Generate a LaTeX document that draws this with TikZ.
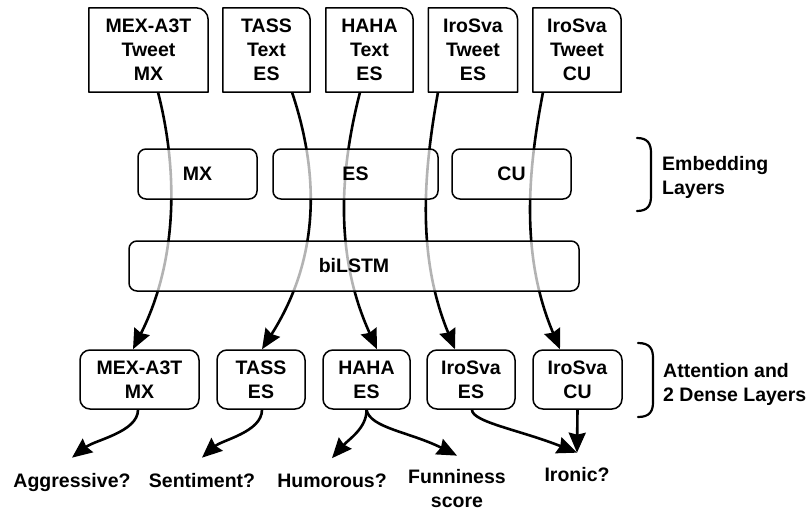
\documentclass[tikz,border=0pt]{standalone}
\usepackage{fontspec}
\setmainfont{Liberation Sans}
\usetikzlibrary{arrows.meta,backgrounds}
\begin{document}
\begin{tikzpicture}[x=1pt,y=-1pt,
  every node/.style={font=\fontsize{19.5}{24}\selectfont\bfseries, align=center, inner sep=0pt},
  card/.style={minimum width=#1, minimum height=84pt},
  layer/.style={draw, line width=1.5pt, rounded corners=8pt, fill=white, fill opacity=0.7, text opacity=1, minimum height=50pt, minimum width=#1},
  head/.style={draw, line width=1.5pt, rounded corners=10pt, minimum height=59pt, minimum width=#1},
  cardline/.style={line width=1.5pt, line join=round},
  flow/.style={line width=2.6pt, -{Stealth[length=20pt,width=17pt,inset=2pt]}},
  brace/.style={line width=2.2pt, line cap=round}
]
\useasboundingbox (0,0) rectangle (809,512);

% top input cards
\node[card=119pt] (t1) at (148.5,50) {MEX-A3T\\Tweet\\MX};
\node[card=87pt]  (t2) at (266.5,50) {TASS\\Text\\ES};
\node[card=87pt]  (t3) at (369.5,50) {HAHA\\Text\\ES};
\node[card=89pt]  (t4) at (473,50)   {IroSva\\Tweet\\ES};
\node[card=88pt]  (t5) at (577,50)   {IroSva\\Tweet\\CU};
\foreach \n in {t1,t2,t3,t4,t5}{
  \draw[cardline] (\n.south west) -- (\n.north west) -- ([xshift=-12pt]\n.north east)
    arc[start angle=90, end angle=0, radius=12pt] -- (\n.south east) -- cycle;
}

% embedding layers
\node[layer=119pt] (e1) at (197.5,174) {MX};
\node[layer=165pt] (e2) at (355.5,174) {ES};
\node[layer=119pt] (e3) at (511.5,174) {CU};

% biLSTM
\node[layer=450pt] (bl) at (354,266) {biLSTM};

% heads
\node[head=119pt] (b1) at (139.5,379.5) {MEX-A3T\\MX};
\node[head=88pt]  (b2) at (261,379.5)   {TASS\\ES};
\node[head=87pt]  (b3) at (366.5,379.5) {HAHA\\ES};
\node[head=88pt]  (b4) at (471,379.5)   {IroSva\\ES};
\node[head=89pt]  (b5) at (577.5,379.5) {IroSva\\CU};

% outputs
\node[anchor=base] (o1) at (72,487)  {Aggressive?};
\node[anchor=base] (o2) at (202,487) {Sentiment?};
\node[anchor=base] (o3) at (332,487) {Humorous?};
\node (o4) at (457,489) {Funniness\\score};
\node[anchor=base] (o5) at (577,481) {Ironic?};

\coordinate (p1) at ([yshift=15pt]o1.north);
\coordinate (p2) at ([yshift=15pt]o2.north);
\coordinate (p3) at ([yshift=15pt]o3.north);
\coordinate (p4) at ([yshift=14pt]o4.north);
\coordinate (p5) at ([yshift=14pt]o5.north);

% side labels
\draw[brace] (637,138) .. controls (648,138) and (651,144) .. (651,153) -- (651,196) .. controls (651,205) and (648,211) .. (637,211);
\node[anchor=west, align=left] (el) at (662,177) {Embedding\\Layers};
\draw[brace] (638,343) .. controls (650,343) and (653,349) .. (653,358) -- (653,402) .. controls (653,411) and (650,417) .. (638,417);
\node[anchor=west, align=left] (al) at (663,384) {Attention and\\2 Dense Layers};

% flows through the shared layers (behind the translucent boxes)
\begin{pgfonlayer}{background}
\draw[flow] ([xshift=9.5pt]t1.south) .. controls (178,170) and (178,260) .. ([xshift=-6.5pt]b1.north);
\draw[flow] ([xshift=25.5pt]t2.south) .. controls (318,170) and (322,255) .. ([xshift=1pt]b2.north);
\draw[flow] ([xshift=-9.5pt]t3.south) .. controls (340,170) and (334,255) .. ([xshift=10.5pt]b3.north);
\draw[flow] ([xshift=-35pt]t4.south) .. controls (424,170) and (416,255) .. ([xshift=-16pt]b4.north);
\draw[flow] ([xshift=-34pt]t5.south) .. controls (528,170) and (520,255) .. ([xshift=-17.5pt]b5.north);
\end{pgfonlayer}

% output arrows
\draw[flow] ([xshift=-1.5pt]b1.south) .. controls (138,432) and (95,440) .. (p1);
\draw[flow] ([xshift=1pt]b2.south) .. controls (262,432) and (222,440) .. (p2);
\draw[flow] (b3.south) .. controls (367,428) and (348,440) .. (p3);
\draw[flow] (b3.south) .. controls (370,428) and (410,432) .. (p4);
\draw[flow] ([xshift=1pt]b4.south) .. controls (472,422) and (520,430) .. (p5);
\draw[flow] (b5.south) -- (p5);
\end{tikzpicture}
\end{document}
